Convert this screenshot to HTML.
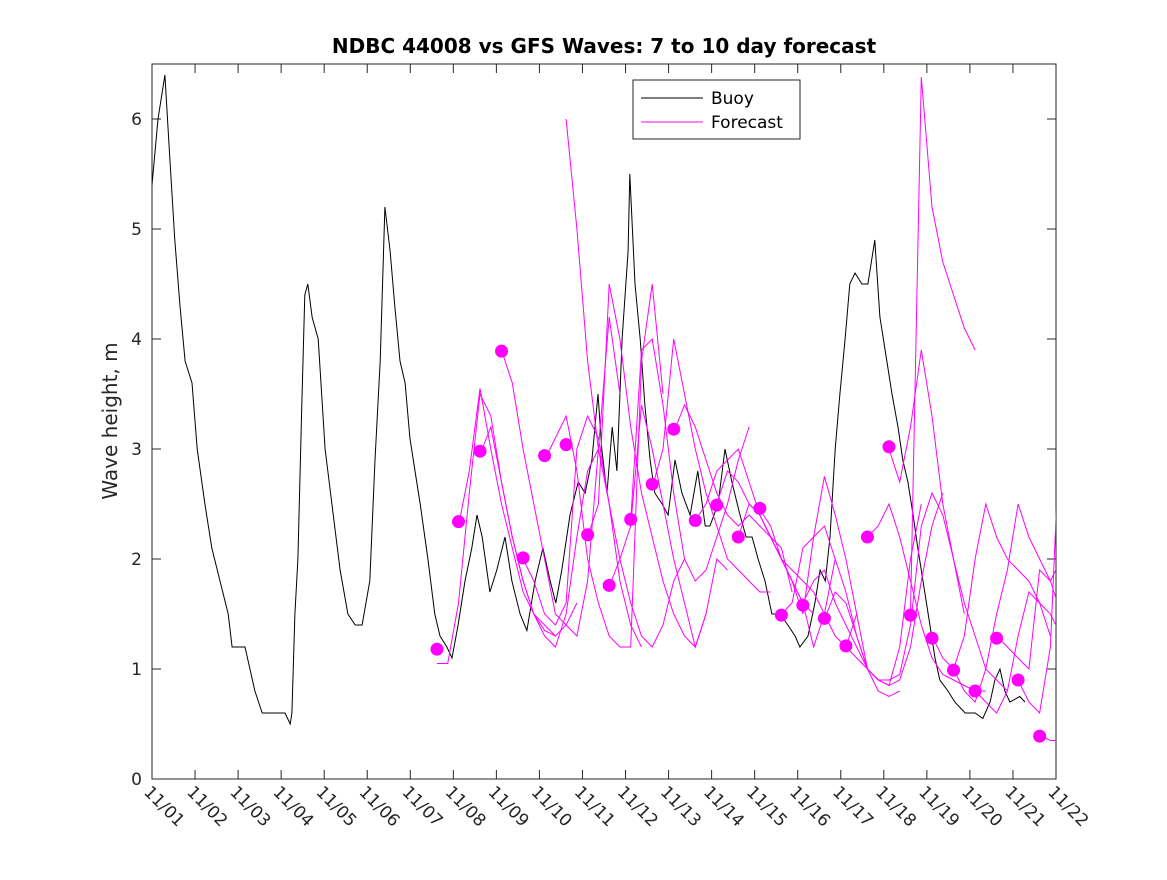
<!DOCTYPE html>
<html><head><meta charset="utf-8">
<style>
body{margin:0;background:#fff;}
svg text{font-family:"DejaVu Sans","Liberation Sans",sans-serif;}
</style></head>
<body>
<svg id="chart" width="1167" height="875" xmlns="http://www.w3.org/2000/svg">
<defs><clipPath id="clip"><rect x="152" y="64" width="904" height="715"/></clipPath></defs>
<rect x="0" y="0" width="1167" height="875" fill="#fff"/>
<rect x="152" y="64" width="904" height="715" fill="#fff" stroke="#262626" stroke-width="1"/>
<text x="604" y="53" font-size="20" font-weight="bold" text-anchor="middle" fill="#000">NDBC 44008 vs GFS Waves: 7 to 10 day forecast</text>
<text transform="translate(117,421) rotate(-90)" font-size="20" text-anchor="middle" fill="#262626">Wave height, m</text>
<g id="axes"></g>
<g id="buoyG" clip-path="url(#clip)"></g>
<g id="fcG" clip-path="url(#clip)"></g>
<g id="dotG" clip-path="url(#clip)"></g>
<g>
<rect x="633" y="80" width="167" height="59" fill="#fff" stroke="#262626" stroke-width="1"/>
<line x1="641" y1="98" x2="703" y2="98" stroke="#000" stroke-width="1"/>
<text x="711" y="104" font-size="17" fill="#000">Buoy</text>
<line x1="641" y1="122" x2="703" y2="122" stroke="#ff00ff" stroke-width="1"/>
<text x="711" y="128" font-size="17" fill="#000">Forecast</text>
</g>
</svg>
<script>
const yTicks=[0,1,2,3,4,5,6];
const xTickLabels=["11/01","11/02","11/03","11/04","11/05","11/06","11/07","11/08","11/09","11/10","11/11","11/12","11/13","11/14","11/15","11/16","11/17","11/18","11/19","11/20","11/21","11/22"];
const buoyDays=[0,0.14,0.30,0.42,0.53,0.65,0.77,0.93,1.05,1.23,1.39,1.58,1.77,1.86,2.16,2.39,2.56,3.09,3.21,3.25,3.32,3.39,3.48,3.55,3.62,3.72,3.86,4.02,4.18,4.37,4.55,4.72,4.88,5.06,5.18,5.30,5.41,5.53,5.64,5.76,5.88,5.99,6.11,6.23,6.41,6.57,6.69,6.85,6.97,7.11,7.27,7.43,7.55,7.67,7.85,8.01,8.20,8.36,8.55,8.71,8.90,9.08,9.25,9.38,9.52,9.71,9.90,10.06,10.22,10.36,10.45,10.57,10.69,10.80,10.92,11.06,11.10,11.22,11.34,11.45,11.57,11.68,11.85,11.99,12.15,12.31,12.50,12.68,12.85,12.96,13.15,13.31,13.47,13.66,13.80,13.94,14.08,14.24,14.40,14.59,14.77,14.94,15.05,15.24,15.40,15.52,15.64,15.75,15.87,15.98,16.10,16.21,16.33,16.49,16.63,16.79,16.91,17.03,17.19,17.33,17.44,17.56,17.68,17.79,17.91,18.07,18.19,18.30,18.49,18.65,18.77,18.89,19.12,19.30,19.47,19.58,19.70,19.81,19.93,20.16,20.28];
const buoyHeights=[5.4,6.0,6.4,5.6,4.9,4.3,3.8,3.6,3.0,2.5,2.1,1.8,1.5,1.2,1.2,0.8,0.6,0.6,0.5,0.6,1.5,2.0,3.4,4.4,4.5,4.2,4.0,3.0,2.5,1.9,1.5,1.4,1.4,1.8,2.9,3.8,5.2,4.8,4.3,3.8,3.6,3.1,2.8,2.5,2.0,1.5,1.3,1.2,1.1,1.4,1.8,2.1,2.4,2.2,1.7,1.9,2.2,1.8,1.5,1.35,1.8,2.1,1.8,1.6,1.9,2.4,2.7,2.6,2.9,3.5,3.0,2.6,3.2,2.8,4.0,4.8,5.5,4.5,4.0,3.4,2.9,2.6,2.5,2.4,2.9,2.6,2.4,2.8,2.3,2.3,2.5,3.0,2.7,2.4,2.2,2.2,2.0,1.8,1.5,1.5,1.4,1.3,1.2,1.3,1.6,1.9,1.8,2.2,3.0,3.5,4.0,4.5,4.6,4.5,4.5,4.9,4.2,3.9,3.5,3.2,2.9,2.7,2.4,2.1,1.8,1.4,1.1,0.9,0.8,0.7,0.65,0.6,0.6,0.55,0.7,0.9,1.0,0.8,0.7,0.75,0.7];
const fcStartDays=[6.62,7.12,7.62,8.12,8.62,9.12,9.62,10.12,10.62,11.12,11.62,12.12,12.62,13.12,13.62,14.12,14.62,15.12,15.62,16.12,16.62,17.12,17.62,18.12,18.62,19.12,19.62,20.12,20.62];
const fcStartValues=[1.18,2.34,2.98,3.89,2.01,2.94,3.04,2.22,1.76,2.36,2.68,3.18,2.35,2.49,2.20,2.46,1.49,1.58,1.46,1.21,2.20,3.02,1.49,1.28,0.99,0.80,1.28,0.90,0.39];
const fcSeries=[
[1.05,1.05,1.6,2.6,3.5,3.3,2.7,2.2,1.8,1.5,1.4,1.3],
[2.3,2.8,3.55,3.0,2.5,2.1,1.7,1.5,1.35,1.3,1.4,1.6],
[2.95,3.2,2.7,2.2,1.8,1.5,1.3,1.2,1.5,2.2,2.8,3.0],
[3.9,3.6,3.0,2.5,2.0,1.5,1.4,1.3,1.8,3.0,4.2,3.5],
[2.0,1.8,1.5,1.4,1.6,3.0,3.3,3.1,2.5,1.8,1.4,1.2],
[2.9,3.1,3.3,2.8,2.0,1.6,1.3,1.2,1.2,3.8,4.5,3.5],
[6.0,5.0,3.8,3.0,2.5,2.0,1.6,1.3,1.2,1.4,1.8,2.0],
[2.2,2.5,4.5,4.0,3.2,2.6,2.2,1.8,1.5,1.3,1.2,1.5],
[1.75,2.0,2.3,3.4,3.0,2.5,2.0,1.6,1.2,1.5,2.0,1.9],
[2.35,3.9,4.0,3.4,2.6,2.0,1.8,1.9,2.2,2.5,2.9,3.2],
[2.65,3.0,4.0,3.5,3.0,2.6,2.3,2.0,1.9,1.8,1.7,1.7],
[3.15,3.4,3.2,2.9,2.6,2.4,2.3,2.4,2.3,2.2,2.1,1.7],
[2.35,2.5,2.8,2.9,3.0,2.7,2.4,2.2,2.0,1.8,1.6,1.5],
[2.5,2.8,2.7,2.5,2.4,2.2,2.0,1.8,1.6,1.2,1.5,2.0],
[2.2,2.5,2.4,2.2,2.0,1.9,1.8,1.7,1.5,1.3,1.2,1.5],
[2.45,2.3,2.0,1.8,1.5,2.2,2.75,2.4,2.0,1.5,1.0,0.9],
[1.5,1.6,2.1,2.2,2.3,2.0,1.7,1.3,1.0,0.8,0.75,0.8],
[1.6,1.8,1.9,1.6,1.4,1.2,1.0,0.9,0.85,1.2,2.0,2.5],
[1.45,1.7,1.6,1.3,1.0,0.9,0.85,0.9,1.2,1.8,2.3,2.6],
[1.2,1.1,1.0,0.9,0.9,0.95,1.4,2.3,2.6,2.4,2.0,1.5],
[2.2,2.3,2.5,2.2,1.8,1.4,1.1,0.95,0.9,0.85,0.8,0.8],
[3.0,2.7,3.2,3.9,3.3,2.5,2.0,1.6,1.3,1.0,0.9,0.8],
[1.5,6.38,5.2,4.7,4.4,4.1,3.9],
[1.3,1.1,1.0,1.3,2.0,2.5,2.2,2.0,1.9,1.8,1.6,1.3],
[1.0,0.8,0.7,1.0,1.5,1.9,2.5,2.2,2.0,1.8,2.0,1.9],
[0.8,0.7,0.6,0.8,1.3,1.7,1.6,1.5,1.3,1.9,1.8,1.6],
[1.3,1.2,1.1,1.0,1.9,1.8,1.5,1.3,1.2,1.1,0.9,0.8],
[0.9,0.7,0.6,1.2,3.45,3.0,2.9],
[0.4,0.35,0.35]
];
const fcStep=0.25;

const NS="http://www.w3.org/2000/svg";
const X0=152,X1=1056,Y0=779,Y1=64,DMAX=21,VMAX=6.5;
function xs(d){return X0+(X1-X0)*d/DMAX;}
function ys(v){return Y0-(Y0-Y1)*v/VMAX;}
function mk(tag,attrs,parent){const e=document.createElementNS(NS,tag);for(const k in attrs)e.setAttribute(k,attrs[k]);parent.appendChild(e);return e;}
const axes=document.getElementById('axes');
yTicks.forEach(v=>{
  const y=ys(v);
  const t1=mk('line',{x1:X0,x2:X0+9,y1:y,y2:y,stroke:'#262626'},axes);
  
  
  mk('line',{x1:X1-9,x2:X1,y1:y,y2:y,stroke:'#262626'},axes);
  const tx=mk('text',{x:X0-10,y:y+6,'font-size':17,'text-anchor':'end',fill:'#262626'},axes);
  
  
  tx.textContent=v;
});
xTickLabels.forEach((lab,i)=>{
  const x=xs(i);
  const t1=mk('line',{x1:x,x2:x,y1:Y0,y2:Y0-9,stroke:'#262626'},axes);
  
  
  mk('line',{x1:x,x2:x,y1:Y1,y2:Y1+9,stroke:'#262626'},axes);
  const tx=mk('text',{transform:`translate(${x-9},${Y0+14}) rotate(45)`,'font-size':17,fill:'#262626'},axes);
  
  
  tx.textContent=lab;
});
const bp=buoyDays.map((d,i)=>xs(d).toFixed(1)+','+ys(buoyHeights[i]).toFixed(1)).join(' ');
const bl=mk('polyline',{points:bp,fill:'none',stroke:'#000','stroke-width':1},document.getElementById('buoyG'));


const fg=document.getElementById('fcG');
fcSeries.forEach((s,k)=>{
  const pts=s.map((v,j)=>xs(fcStartDays[k]+j*fcStep).toFixed(1)+','+ys(v).toFixed(1)).join(' ');
  const pl=mk('polyline',{points:pts,fill:'none',stroke:'#ff00ff','stroke-width':1},fg);
  
  
});
const dg=document.getElementById('dotG');
fcStartDays.forEach((d,i)=>{
  const c=mk('circle',{cx:xs(d),cy:ys(fcStartValues[i]),r:6.5,fill:'#ff00ff'},dg);
  
  
});
</script>
</body></html>
